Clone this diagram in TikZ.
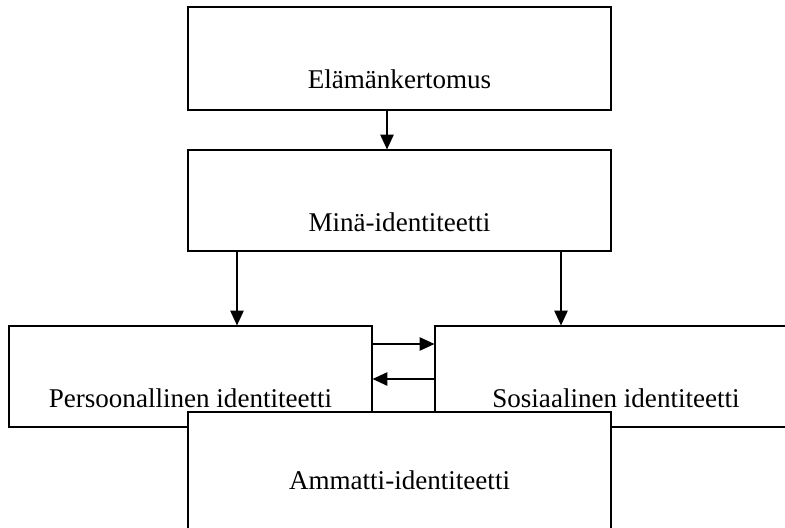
\documentclass[tikz,border=0pt]{standalone}
\usepackage{fontspec}
\setmainfont{Liberation Serif}
\usetikzlibrary{arrows.meta}
\tikzset{
  box/.style={draw, fill=white, line width=0.9pt, rectangle, inner sep=0pt,
    font=\fontsize{20.3}{24}\selectfont, text height=45.75pt, text depth=0pt},
  lowbox/.style={draw, fill=white, line width=0.9pt, rectangle, inner sep=0pt,
    font=\fontsize{20.3}{24}\selectfont},
  arr/.style={line width=0.9pt, -{Triangle[length=11pt, width=10pt]}}
}
\begin{document}
\begin{tikzpicture}[x=0.75pt, y=-0.75pt]
  \useasboundingbox (0,0) rectangle (785,528);
  \clip (0,0) rectangle (785,528);

  % upper chain
  \node[box, minimum width=317.25pt, minimum height=77.25pt] (life) at (399.5,58.5) {Elämänkertomus};
  \node[box, minimum width=317.25pt, minimum height=75.75pt] (self) at (399.5,200.5) {Minä-identiteetti};

  % personal and social identity
  \node[box, minimum width=272.25pt, minimum height=75.75pt] (pers) at (190.5,376.5) {Persoonallinen identiteetti};
  \node[box, minimum width=271.5pt, minimum height=75.75pt] (soc) at (616,376.5) {Sosiaalinen identiteetti};

  % professional identity lies over both
  \node[lowbox, minimum width=317.25pt, minimum height=102pt] (prof) at (399.5,480) {Ammatti-identiteetti};

  % arrow columns and rows
  \coordinate (cmid) at (387,0);
  \coordinate (cleft) at (237,0);
  \coordinate (cright) at (561,0);
  \coordinate (rtop) at (0,344);
  \coordinate (rlow) at (0,379);

  \draw[arr] (life.south -| cmid) -- (self.north -| cmid);
  \draw[arr] (self.south -| cleft) -- (pers.north -| cleft);
  \draw[arr] (self.south -| cright) -- (soc.north -| cright);
  \draw[arr] (pers.east |- rtop) -- (soc.west |- rtop);
  \draw[arr] (soc.west |- rlow) -- (pers.east |- rlow);
\end{tikzpicture}
\end{document}
